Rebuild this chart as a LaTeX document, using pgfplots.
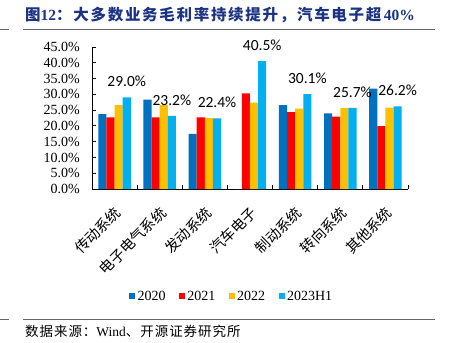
\documentclass[border=0pt]{standalone}
\usepackage{pgfplots}
\pgfplotsset{compat=1.18}
\usepackage{fontspec}
\setmainfont{Liberation Serif}
\newfontfamily\cjk{Noto Sans CJK SC}
\newfontfamily\cjkt{Noto Sans CJK SC}[LetterSpace=11]
\newfontfamily\cjks{Noto Sans CJK SC}[LetterSpace=7]
\newfontfamily\calib{Carlito}
\definecolor{c20}{HTML}{0070C0}
\definecolor{c21}{HTML}{FF0000}
\definecolor{c22}{HTML}{FFC000}
\definecolor{c23}{HTML}{00B0F0}
\definecolor{ttl}{HTML}{1C3383}
\begin{document}
\begin{tikzpicture}
\path[use as bounding box] (0,0) rectangle (449bp,-343bp);
% title
\node[anchor=west, text=ttl, inner sep=0pt] at (25bp,-15bp)
  {\fontsize{15.5bp}{18bp}\selectfont{\cjkt\bfseries 图}{\bfseries 12}{\cjkt\bfseries ：大多数业务毛利率持续提升，汽车电子超}\,{\bfseries 40\%}};
\draw[gray!80!black, line width=0.8bp] (23bp,-29.5bp) -- (435bp,-29.5bp);
\draw[gray!80!black, line width=0.8bp] (0bp,-29.5bp) -- (9bp,-29.5bp);
\draw[gray!80!black, line width=0.8bp] (23bp,-319.5bp) -- (435bp,-319.5bp);
\draw[gray!80!black, line width=0.8bp] (0bp,-319.5bp) -- (9bp,-319.5bp);
\node[anchor=west, inner sep=0pt] at (25bp,-331bp)
  {\fontsize{13.5bp}{16bp}\selectfont{\cjks 数据来源：}Wind{\cjks 、开源证券研究所}};
\begin{axis}[
  at={(92bp,-189bp)}, anchor=south west,
  scale only axis, width=316bp, height=142bp,
  ybar=0pt, bar width=0.18,
  xmin=-0.5, xmax=6.5, ymin=0, ymax=45,
  axis x line*=bottom, axis y line*=left,
  axis line style={black, line width=0.8bp},
  xtick={0,1,2,3,4,5,6},
  xticklabels={传动系统,电子电气系统,发动系统,汽车电子,制动系统,转向系统,其他系统},
  major x tick style={draw=none},
  minor xtick={-0.5,0.5,1.5,2.5,3.5,4.5,5.5,6.5},
  minor x tick style={black, line width=0.8bp},
  minor tick length=4bp,
  xticklabel style={font=\cjk\fontsize{14.5bp}{16bp}\selectfont, xshift=-1bp, yshift=-16bp, rotate=45, anchor=north east, inner sep=0pt},
  ytick={0,5,...,45},
  yticklabel={\pgfmathprintnumber[fixed,fixed zerofill,precision=1]{\tick}\%},
  yticklabel style={font=\fontsize{14bp}{16bp}\selectfont, inner sep=0pt, xshift=-12bp},
  y tick style={black, line width=0.8bp},
  major tick length=4bp,
  tick align=inside,
  /pgf/number format/assume math mode=true,
  legend columns=4,
  legend style={draw=none, fill=none, at={(axis description cs:0.443,-0.755)}, anchor=center,
    font=\fontsize{14bp}{16bp}\selectfont,
    /tikz/every even column/.append style={column sep=11bp},
    nodes={inner xsep=2.5bp, inner ysep=0pt}},
  legend image code/.code={\fill[#1] (0bp,-2.9bp) rectangle (5.8bp,2.9bp);},
]
\addplot[fill=c20, draw=none] coordinates {(0,23.7) (1,28.3) (2,17.5) (3,0) (4,26.6) (5,24.0) (6,31.8)};
\addplot[fill=c21, draw=none] coordinates {(0,22.7) (1,22.7) (2,22.7) (3,30.3) (4,24.4) (5,22.9) (6,19.9)};
\addplot[fill=c22, draw=none] coordinates {(0,26.6) (1,26.6) (2,22.5) (3,27.4) (4,25.5) (5,25.7) (6,25.8)};
\addplot[fill=c23, draw=none,
  nodes near coords={\pgfmathprintnumber[fixed,fixed zerofill,precision=1]{\pgfplotspointmeta}\%},
  every node near coord/.append style={font=\calib\fontsize{15.5bp}{18bp}\selectfont, anchor=base, inner sep=0pt, yshift=10.5bp, text=black}]
  coordinates {(0,29.0) (1,23.2) (2,22.4) (3,40.5) (4,30.1) (5,25.7) (6,26.2)};
\legend{2020,2021,2022,2023H1}
\end{axis}
\end{tikzpicture}
\end{document}
